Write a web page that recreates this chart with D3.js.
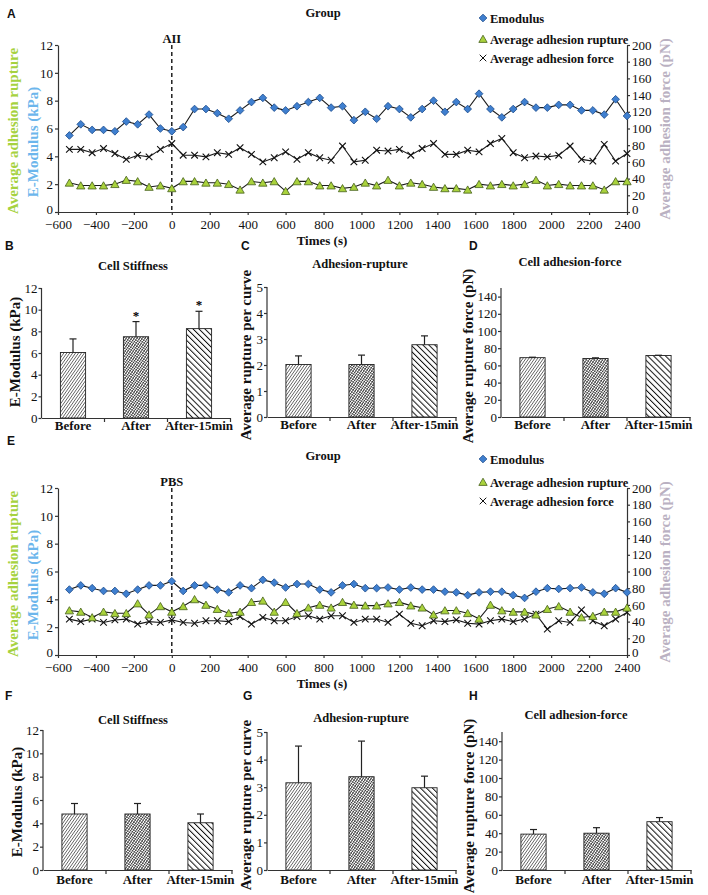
<!DOCTYPE html>
<html>
<head>
<meta charset="utf-8">
<script src="https://cdn.jsdelivr.net/npm/d3@7"></script>
<style>
  body { margin: 0; background: #fff; }
  svg { display: block; }
  .tk text { font-family: "Liberation Serif", "Times New Roman", serif; font-size: 13px; fill: #111; }
  .tk path, .tk line { stroke: #333; stroke-width: 1.2; }
</style>
</head>
<body>
<svg id="fig" width="708" height="895"></svg>
<script>
// ---- data ----
const times = [-540,-480,-420,-360,-300,-240,-180,-120,-60,0,
  60,120,180,240,300,360,420,480,540,600,
  660,720,780,840,900,960,1020,1080,1140,1200,
  1260,1320,1380,1440,1500,1560,1620,1680,1740,1800,
  1860,1920,1980,2040,2100,2160,2220,2280,2340,2400];

// panel A (AII)
const emodA = [5.5,6.3,5.9,5.9,5.8,6.5,6.3,7.0,6.0,5.8,
  6.1,7.4,7.4,7.1,6.7,7.3,7.9,8.2,7.5,7.3,
  7.6,7.9,8.2,7.5,7.6,6.6,7.2,6.7,7.6,7.4,
  6.8,7.4,8.0,7.2,7.9,7.4,8.5,7.4,6.8,7.4,
  7.9,7.5,7.5,7.7,7.7,7.3,7.3,7.0,8.1,6.9];
const ruptA = [2.1,1.9,1.9,1.9,2.0,2.3,2.2,1.8,1.9,1.7,
  2.2,2.2,2.1,2.1,2.0,1.6,2.2,2.1,2.2,1.5,
  2.2,2.2,1.9,1.9,1.7,1.8,2.1,1.9,2.3,1.9,
  2.1,2.0,1.8,1.7,1.7,1.6,2.0,1.9,2.0,1.9,
  2.0,2.3,1.9,2.0,1.9,1.9,1.9,1.6,2.2,2.2];
const forceA = [75,75,71,76,70,63,68,66,75,82,
  68,68,66,71,69,77,69,60,65,72,
  63,71,65,62,79,60,62,74,73,75,
  68,76,82,69,69,74,72,82,88,71,
  65,67,66,68,79,63,61,81,61,70];

// panel E (PBS)
const emodE = [4.7,5.0,4.8,4.6,4.6,4.4,4.7,5.0,5.0,5.3,
  4.6,5.0,5.0,4.7,4.5,5.0,4.8,5.4,5.2,4.85,
  5.1,5.1,4.7,4.5,5.0,5.1,4.8,4.8,4.85,4.7,
  4.85,4.7,4.7,4.55,4.5,4.3,4.5,4.55,4.55,4.3,
  4.1,4.55,4.8,4.75,4.8,4.85,4.5,4.4,4.8,4.5];
const ruptE = [3.2,3.1,2.7,3.1,3.0,3.0,3.7,2.9,3.5,3.1,
  3.5,4.0,3.6,3.3,3.0,3.1,3.8,3.9,3.1,3.8,
  3.0,3.4,3.6,3.4,3.8,3.6,3.55,3.55,3.7,3.8,
  3.55,3.4,2.9,3.2,3.2,3.0,2.6,3.6,3.2,3.1,
  3.1,2.9,3.3,3.5,3.1,2.7,2.8,3.1,3.1,3.4];
const forceE = [43,40,43,39,42,43,37,40,39,42,
  39,38,41,41,40,46,37,45,41,41,
  46,47,43,47,47,39,43,43,39,49,
  38,35,41,40,42,38,37,41,43,40,
  43,49,31,41,39,54,41,35,43,51];

const timeTicks = [-600,-400,-200,0,200,400,600,800,1000,1200,1400,1600,1800,2000,2200,2400];
const kpaTicks = [0,2,4,6,8,10,12];
const pnTicks = [0,20,40,60,80,100,120,140,160,180,200];

// bar panels
const groups = ["Before","After","After-15min"];
const stiffA = [6.05,7.5,8.25],  stiffAsd = [1.25,1.4,1.6];
const ruptBarA = [2.02,2.02,2.78], ruptBarAsd = [0.33,0.36,0.34];
const forceBarA = [69,68,71.5], forceBarAsd = [0.5,0.8,0.3];
const stiffE = [4.8,4.8,4.05], stiffEsd = [0.9,0.9,0.75];
const ruptBarE = [3.16,3.38,2.98], ruptBarEsd = [1.33,1.29,0.42];
const forceBarE = [39,40,52.5], forceBarEsd = [5,6,4.5];
const stiffTicks = [0,2,4,6,8,10,12];
const ruptTicks = [0,1,2,3,4,5];
const forceTicks = [0,20,40,60,80,100,120,140];

// ---- drawing ----
const serif = '"Liberation Serif","Times New Roman",serif';
const sans = '"Liberation Sans",Arial,sans-serif';
const fmt = d3.format("d");
const svg = d3.select("#fig");
const defs = svg.append("defs");

function hatch(id, angle, gap, w, col, cross) {
  const p = defs.append("pattern").attr("id", id)
    .attr("patternUnits", "userSpaceOnUse")
    .attr("width", gap).attr("height", gap)
    .attr("patternTransform", `rotate(${angle})`);
  p.append("rect").attr("width", gap).attr("height", gap).attr("fill", "#fff");
  p.append("line").attr("x1", 0).attr("y1", 0).attr("x2", 0).attr("y2", gap)
    .attr("stroke", col).attr("stroke-width", w);
  if (cross) p.append("line").attr("x1", 0).attr("y1", 0).attr("x2", gap).attr("y2", 0)
    .attr("stroke", col).attr("stroke-width", w * 0.7);
}
hatch("pBefore", 35, 2.4, 1.3, "#3c3c3c", false);
hatch("pAfter", 35, 2.2, 1.3, "#262626", true);
hatch("pLate", -45, 4.2, 2.0, "#111", false);
const pats = ["pBefore", "pAfter", "pLate"];

function txt(x, y, s, size, opt = {}) {
  return svg.append("text").attr("x", x).attr("y", y).text(s)
    .attr("font-family", opt.family || serif)
    .attr("font-size", size)
    .attr("font-weight", opt.weight || "bold")
    .attr("fill", opt.fill || "#111")
    .attr("text-anchor", opt.anchor || "middle");
}
function vtxt(x, y, s, size, fill) {
  return svg.append("text")
    .attr("transform", `translate(${x},${y}) rotate(-90)`)
    .attr("text-anchor", "middle").attr("dominant-baseline", "central")
    .attr("font-family", serif).attr("font-size", size).attr("font-weight", "bold")
    .attr("fill", fill).text(s);
}

const cBlue = "#3f7fcf", cBlueS = "#1b4a8a";
const cGreen = "#a9d23c", cGreenS = "#45601a";
const diamond = d3.symbol(d3.symbolDiamond2 || d3.symbolDiamond, 38);
const tri = d3.symbol(d3.symbolTriangle, 30);
const cross = d3.symbol(d3.symbolX || d3.symbolCross, 30);

function linePanel(o) {
  const top = o.top, bottom = o.top + 167;
  const x = d3.scaleLinear().domain([-600, 2400]).range([58, 627]);
  const yL = d3.scaleLinear().domain([0, 12]).range([bottom, top]);
  const yR = d3.scaleLinear().domain([0, 200]).range([bottom, top]);
  const g = svg.append("g");

  g.append("g").attr("class", "tk").attr("transform", "translate(58,0)")
    .call(d3.axisLeft(yL).tickValues(kpaTicks).tickFormat(fmt).tickSize(3).tickPadding(2).tickSizeOuter(0))
    .call(a => a.selectAll(".tick text").filter(d => d === 0).attr("dy", "0.1em"));
  g.append("g").attr("class", "tk").attr("transform", "translate(627,0)")
    .call(d3.axisRight(yR).tickValues(pnTicks).tickFormat(fmt).tickSize(3).tickPadding(2).tickSizeOuter(0))
    .call(a => a.selectAll(".tick text").filter(d => d === 0).attr("dy", "0.1em"));
  g.append("g").attr("class", "tk").attr("transform", `translate(0,${bottom})`)
    .call(d3.axisBottom(x).tickValues(timeTicks).tickFormat(fmt).tickSize(3).tickPadding(5).tickSizeOuter(0));

  // treatment marker
  g.append("line").attr("x1", x(0)).attr("x2", x(0)).attr("y1", top).attr("y2", bottom)
    .attr("stroke", "#111").attr("stroke-width", 1.4).attr("stroke-dasharray", "4,3");
  txt(x(0), top - 2, o.mark, 12.5);

  const series = [
    { v: o.force, y: yR },
    { v: o.rupt, y: yL },
    { v: o.emod, y: yL }
  ];
  series.forEach(s => {
    g.append("path").datum(s.v)
      .attr("fill", "none").attr("stroke", "#1a1a1a").attr("stroke-width", 1.1)
      .attr("d", d3.line().x((d, i) => x(times[i])).y(d => s.y(d)));
  });

  g.selectAll("path.fx").data(o.force).join("path").attr("class", "fx")
    .attr("transform", (d, i) => `translate(${x(times[i])},${yR(d)})`)
    .attr("d", cross).attr("fill", "none").attr("stroke", "#111").attr("stroke-width", 1.1);
  g.selectAll("path.rp").data(o.rupt).join("path").attr("class", "rp")
    .attr("transform", (d, i) => `translate(${x(times[i])},${yL(d) + 1})`)
    .attr("d", tri).attr("fill", cGreen).attr("stroke", cGreenS).attr("stroke-width", 0.8);
  g.selectAll("path.em").data(o.emod).join("path").attr("class", "em")
    .attr("transform", (d, i) => `translate(${x(times[i])},${yL(d)})`)
    .attr("d", diamond).attr("fill", cBlue).attr("stroke", cBlueS).attr("stroke-width", 0.8);

  // titles and axis labels
  txt(7, o.letterY, o.letter, 12, { family: sans, anchor: "start" });
  txt(323, o.groupY, "Group", 12.5);
  txt(322, bottom + 33, "Times (s)", 13);
  vtxt(13, top + 86, "Average adhesion rupture", 15, "#a6d23f");
  vtxt(33, top + 97, "E-Modulus (kPa)", 15, "#6cb6ec");
  vtxt(665, top + 84, "Average adhesion force (pN)", 15, "#bab1c2");

  // legend
  const lg = o.legY;
  g.append("path").attr("transform", `translate(483,${lg[0]})`)
    .attr("d", diamond).attr("fill", cBlue).attr("stroke", cBlueS).attr("stroke-width", 0.8);
  g.append("path").attr("transform", `translate(483,${lg[1] + 1})`)
    .attr("d", tri).attr("fill", cGreen).attr("stroke", cGreenS).attr("stroke-width", 0.8);
  g.append("path").attr("transform", `translate(483,${lg[2]})`)
    .attr("d", cross).attr("fill", "none").attr("stroke", "#111").attr("stroke-width", 1);
  ["Emodulus", "Average adhesion rupture", "Average adhesion force"].forEach((s, i) =>
    txt(490, lg[i] + 4.5, s, 12.5, { anchor: "start" }));
}

function barPanel(o) {
  const g = svg.append("g");
  const y = d3.scaleLinear().domain([0, o.max]).range([o.bottom, o.top]);
  const x = d3.scaleBand().domain(groups).range([o.x0, o.x0 + 189]).paddingInner(0.6).paddingOuter(0.3);
  const bw = x.bandwidth();

  g.selectAll("rect").data(o.vals).join("rect")
    .attr("x", (d, i) => x(groups[i])).attr("y", d => y(d))
    .attr("width", bw).attr("height", d => o.bottom - y(d))
    .attr("fill", (d, i) => `url(#${pats[i]})`)
    .attr("stroke", "#222").attr("stroke-width", 0.9);

  g.selectAll("line.err").data(o.vals).join("line").attr("class", "err")
    .attr("x1", (d, i) => x(groups[i]) + bw / 2).attr("x2", (d, i) => x(groups[i]) + bw / 2)
    .attr("y1", d => y(d)).attr("y2", (d, i) => y(d + o.sd[i]))
    .attr("stroke", "#222").attr("stroke-width", 1.2);
  g.selectAll("line.cap").data(o.vals).join("line").attr("class", "cap")
    .attr("x1", (d, i) => x(groups[i]) + bw / 2 - 3.5).attr("x2", (d, i) => x(groups[i]) + bw / 2 + 3.5)
    .attr("y1", (d, i) => y(d + o.sd[i])).attr("y2", (d, i) => y(d + o.sd[i]))
    .attr("stroke", "#222").attr("stroke-width", 1.2);

  if (o.stars) o.stars.forEach(i => {
    txt(x(groups[i]) + bw / 2, y(o.vals[i] + o.sd[i]) - 2, "*", 13, { fill: "#000" });
  });

  g.append("g").attr("class", "tk").attr("transform", `translate(${o.x0},0)`)
    .call(d3.axisLeft(y).tickValues(o.ticks).tickFormat(fmt).tickSize(3).tickPadding(1).tickSizeOuter(0))
    .call(a => a.select(".domain").attr("d", `M0,${o.bottom}V${o.top}`));

  const xa = g.append("g").attr("class", "tk").attr("transform", `translate(0,${o.bottom})`)
    .call(d3.axisBottom(x).tickSize(0).tickPadding(o.labPad).tickSizeOuter(0));
  xa.select(".domain").attr("stroke-width", 1.6);
  xa.selectAll("text").attr("font-weight", "bold").attr("font-size", 13);
  const step = x.step();
  [1, 2, 3].forEach(k => xa.append("line")
    .attr("x1", o.x0 + step * k).attr("x2", o.x0 + step * k).attr("y1", 0).attr("y2", 4)
    .attr("stroke", "#333").attr("stroke-width", 1.2));

  txt(o.letterX, o.letterY, o.letter, 12, { family: sans, anchor: "start" });
  txt(o.titleX, o.titleY, o.title, 12.5);
  vtxt(o.ylabX, o.ylabY, o.ylab, 15, "#111");
}

linePanel({ top: 45, letter: "A", letterY: 18, groupY: 17, mark: "AII",
  emod: emodA, rupt: ruptA, force: forceA, legY: [18, 39, 58] });
linePanel({ top: 488, letter: "E", letterY: 445, groupY: 460, mark: "PBS",
  emod: emodE, rupt: ruptE, force: forceE, legY: [459, 482, 501] });

barPanel({ x0: 41.5, top: 288, bottom: 418, max: 12, ticks: stiffTicks, vals: stiffA, sd: stiffAsd,
  stars: [1, 2], labPad: 3, letter: "B", letterX: 5, letterY: 250,
  title: "Cell Stiffness", titleX: 133, titleY: 270, ylab: "E-Modulus (kPa)", ylabX: 15, ylabY: 352 });
barPanel({ x0: 267, top: 287, bottom: 417, max: 5, ticks: ruptTicks, vals: ruptBarA, sd: ruptBarAsd,
  labPad: 3, letter: "C", letterX: 241, letterY: 250,
  title: "Adhesion-rupture", titleX: 360, titleY: 268, ylab: "Average rupture per curve", ylabX: 246, ylabY: 355 });
barPanel({ x0: 501, top: 288, bottom: 417, max: 150, ticks: forceTicks, vals: forceBarA, sd: forceBarAsd,
  labPad: 3, letter: "D", letterX: 469, letterY: 250,
  title: "Cell adhesion-force", titleX: 570, titleY: 266, ylab: "Average rupture force (pN)", ylabX: 468, ylabY: 356 });

barPanel({ x0: 43, top: 730, bottom: 870, max: 12, ticks: stiffTicks, vals: stiffE, sd: stiffEsd,
  labPad: 5, letter: "F", letterX: 5, letterY: 700,
  title: "Cell Stiffness", titleX: 133, titleY: 724, ylab: "E-Modulus (kPa)", ylabX: 17, ylabY: 802 });
barPanel({ x0: 267, top: 732, bottom: 870, max: 5, ticks: ruptTicks, vals: ruptBarE, sd: ruptBarEsd,
  labPad: 5, letter: "G", letterX: 243, letterY: 700,
  title: "Adhesion-rupture", titleX: 361, titleY: 722, ylab: "Average rupture per curve", ylabX: 246, ylabY: 805 });
barPanel({ x0: 502, top: 732, bottom: 870, max: 150, ticks: forceTicks, vals: forceBarE, sd: forceBarEsd,
  labPad: 5, letter: "H", letterX: 469, letterY: 700,
  title: "Cell adhesion-force", titleX: 576, titleY: 719, ylab: "Average rupture force (pN)", ylabX: 469, ylabY: 806 });
</script>
</body>
</html>
